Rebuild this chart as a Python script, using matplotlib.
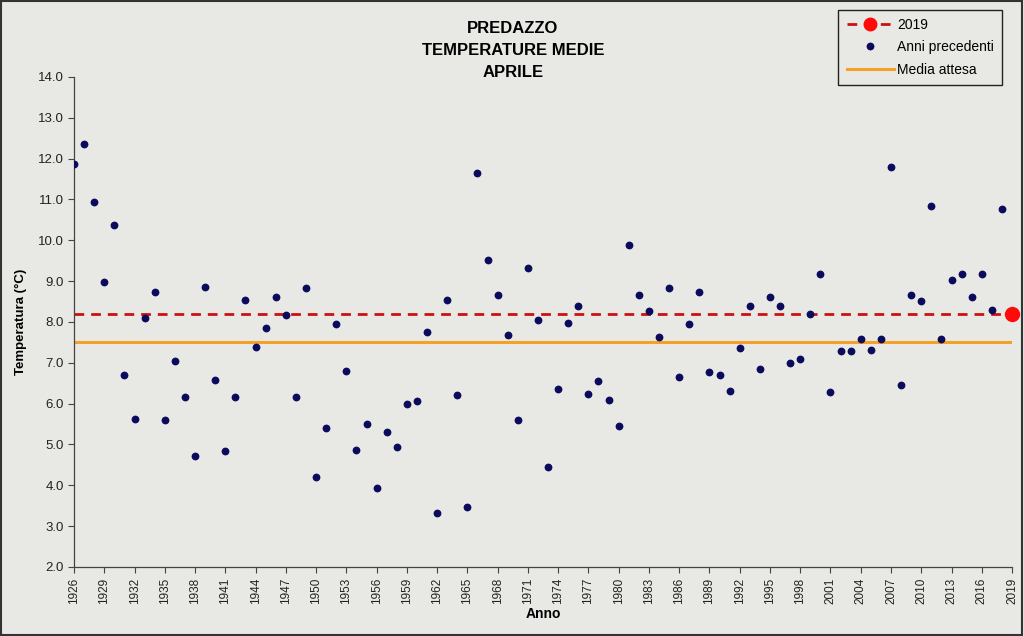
import matplotlib
matplotlib.use("Agg")
import matplotlib.pyplot as plt
from matplotlib.patches import Rectangle
from matplotlib.lines import Line2D

plt.rcParams['font.family'] = ['Liberation Sans', 'DejaVu Sans']

years_prev = list(range(1926, 2019))
temps_prev = [
    11.86, 12.35, 10.93, 8.98, 10.37, 6.69, 5.62, 8.10, 8.74, 5.60,   # 1926-1935
    7.05, 6.16, 4.73, 8.86, 6.58, 4.83, 6.16, 8.54, 7.39, 7.85,       # 1936-1945
    8.60, 8.16, 6.16, 8.83, 4.20, 5.40, 7.95, 6.80, 4.86, 5.49,       # 1946-1955
    3.94, 5.31, 4.93, 6.00, 6.06, 7.75, 3.31, 8.54, 6.22, 3.48,       # 1956-1965
    11.66, 9.51, 8.66, 7.67, 5.59, 9.31, 8.05, 4.44, 6.36, 7.98,      # 1966-1975
    8.38, 6.24, 6.56, 6.08, 5.45, 9.89, 8.66, 8.28, 7.62, 8.83,       # 1976-1985
    6.65, 7.95, 8.74, 6.77, 6.69, 6.30, 7.37, 8.39, 6.85, 8.62,       # 1986-1995
    8.38, 6.99, 7.09, 8.20, 9.18, 6.29, 7.30, 7.30, 7.58, 7.32,       # 1996-2005
    7.59, 11.80, 6.45, 8.65, 8.52, 10.83, 7.59, 9.02, 9.18, 8.62,     # 2006-2015
    9.18, 8.30, 10.77,                                                # 2016-2018
]
year_current = 2019
temp_current = 8.20
media_attesa = 7.5

year_start, year_end = 1926, 2019
xticks = list(range(1926, 2020, 3))
yticks = [2.0 + i for i in range(13)]

bg = '#e8e8e5'
red_line = '#cc1111'
fig = plt.figure(figsize=(10.24, 6.36), dpi=100, facecolor=bg)
ax = fig.add_axes([0.0723, 0.1085, 0.9160, 0.7705])
ax.set_facecolor(bg)

ax.plot([year_start, year_end], [temp_current, temp_current], color=red_line,
        linestyle=(0, (3.5, 2.5)), linewidth=2.0, zorder=2)
ax.plot([year_start, year_end], [media_attesa, media_attesa], color='#f4a12a',
        linewidth=2.2, zorder=2)
ax.plot(years_prev, temps_prev, linestyle='none', marker='o', markersize=4.6,
        color='#0b0b5c', zorder=3)
ax.plot([year_current], [temp_current], linestyle='none', marker='o', markersize=10,
        color='#ff0a0a', zorder=4, clip_on=False)

ax.set_xlim(year_start, year_end)
ax.set_ylim(2.0, 14.0)
ax.set_xticks(xticks)
ax.set_xticklabels([str(y) for y in xticks], rotation=90, fontsize=8.5, color='#222222')
ax.set_yticks(yticks)
ax.set_yticklabels([f'{v:.1f}' for v in yticks], fontsize=9.5, color='#222222')
ax.tick_params(axis='both', direction='out', length=4, width=0.8, color='#444444')
for s in ['top', 'right']:
    ax.spines[s].set_visible(False)
for s in ['left', 'bottom']:
    ax.spines[s].set_color('#444444')
    ax.spines[s].set_linewidth(0.9)

ax.set_xlabel('Anno', fontsize=10, fontweight='bold', labelpad=2)
ax.set_ylabel('Temperatura (°C)', fontsize=9.5, fontweight='bold', labelpad=8)

tx = 0.501
fig.text(tx, 0.955, 'PREDAZZO', ha='center', va='center', fontsize=12, fontweight='bold')
fig.text(tx, 0.920, 'TEMPERATURE MEDIE', ha='center', va='center', fontsize=12, fontweight='bold')
fig.text(tx, 0.886, 'APRILE', ha='center', va='center', fontsize=12, fontweight='bold')

handles = [
    Line2D([], [], color=red_line, linestyle=(0, (3.5, 2.5)), linewidth=2.0,
           marker='o', markersize=9, markerfacecolor='#ff0a0a', markeredgecolor='#ff0a0a'),
    Line2D([], [], linestyle='none', marker='o', markersize=4.6, color='#0b0b5c'),
    Line2D([], [], color='#f4a12a', linewidth=2.2),
]
labels = ['2019', 'Anni precedenti', 'Media attesa']
leg = fig.legend(handles, labels, loc='upper right', bbox_to_anchor=(0.979, 0.985),
                 fontsize=10, frameon=True, fancybox=False, edgecolor='#222222',
                 facecolor=bg, framealpha=1.0, borderpad=0.6, labelspacing=0.6,
                 handlelength=3.4, handletextpad=0.25, borderaxespad=0.0)
leg.get_frame().set_linewidth(1.0)

fig.patches.append(Rectangle((0.001, 0.001), 0.997, 0.997, transform=fig.transFigure,
                             fill=False, edgecolor='#333333', linewidth=1.5))

fig.savefig('out.png', dpi=100, facecolor=bg)
